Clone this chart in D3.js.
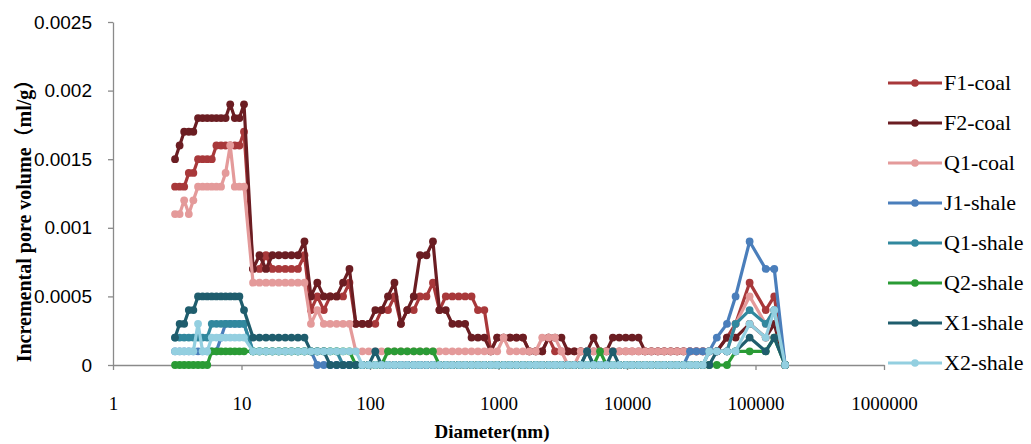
<!DOCTYPE html>
<html><head><meta charset="utf-8">
<script src="https://cdn.jsdelivr.net/npm/d3@7"></script>
<style>body{margin:0;background:#fff} svg{display:block}</style>
</head><body><svg id="c" width="1031" height="444"></svg>
<script>
// Pore diameters (nm)
const diameters = [3.04,3.30,3.58,3.89,4.22,4.59,4.98,5.41,5.87,6.38,6.93,7.52,8.17,8.87,9.63,10.46,
12.3,13.8,15.5,17.4,19.5,21.9,24.5,27.5,30.9,34.7,38.9,43.7,49.0,55.0,61.7,69.2,77.6,87.1,97.7,110,
123,138,155,174,195,219,245,275,309,347,389,437,490,550,617,692,776,871,977,1096,
1230,1380,1549,1738,1950,2188,2455,2754,3090,3467,3890,4365,4898,5495,6166,6918,7762,8710,9772,10965,
12303,13804,15488,17378,19498,21878,24547,27542,30903,34674,38905,43652,
50000,60000,70000,90000,120000,140000,170000];

// Incremental pore volume (ml/g)
const F1coal = [13e-4,13e-4,13e-4,14e-4,14e-4,15e-4,15e-4,15e-4,15e-4,16e-4,16e-4,16e-4,16e-4,16e-4,16e-4,17e-4,
7e-4,7e-4,8e-4,7e-4,7e-4,7e-4,7e-4,7e-4,8e-4,
4e-4,5e-4,4e-4,5e-4,5e-4,5e-4,6e-4,3e-4,
3e-4,3e-4,3e-4,4e-4,4e-4,5e-4,3e-4,4e-4,4e-4,5e-4,5e-4,6e-4,
4e-4,5e-4,5e-4,5e-4,5e-4,5e-4,4e-4,4e-4,1e-4,
2e-4,2e-4,2e-4,2e-4,2e-4,
1e-4,1e-4,1e-4,2e-4,1e-4,1e-4,1e-4,1e-4,1e-4,1e-4,1e-4,1e-4,1e-4,1e-4,1e-4,1e-4,1e-4,1e-4,1e-4,1e-4,1e-4,1e-4,1e-4,1e-4,1e-4,1e-4,1e-4,1e-4,1e-4,
1e-4,2e-4,3e-4,6e-4,4e-4,5e-4,0];
const F2coal = [15e-4,16e-4,17e-4,17e-4,17e-4,18e-4,18e-4,18e-4,18e-4,18e-4,18e-4,18e-4,19e-4,18e-4,18e-4,19e-4,
7e-4,8e-4,7e-4,8e-4,8e-4,8e-4,8e-4,8e-4,9e-4,
5e-4,6e-4,5e-4,5e-4,5e-4,6e-4,7e-4,3e-4,
3e-4,3e-4,4e-4,4e-4,5e-4,6e-4,3e-4,4e-4,5e-4,8e-4,8e-4,9e-4,
4e-4,4e-4,3e-4,3e-4,3e-4,2e-4,2e-4,2e-4,1e-4,
2e-4,2e-4,2e-4,2e-4,2e-4,
1e-4,1e-4,1e-4,2e-4,2e-4,2e-4,1e-4,1e-4,1e-4,1e-4,2e-4,1e-4,1e-4,2e-4,2e-4,2e-4,2e-4,2e-4,1e-4,1e-4,1e-4,1e-4,1e-4,1e-4,1e-4,1e-4,1e-4,1e-4,1e-4,
1e-4,2e-4,2e-4,3e-4,2e-4,3e-4,0];
const Q1coal = [11e-4,11e-4,12e-4,11e-4,12e-4,13e-4,13e-4,13e-4,13e-4,13e-4,13e-4,14e-4,16e-4,13e-4,13e-4,13e-4,
6e-4,6e-4,6e-4,6e-4,6e-4,6e-4,6e-4,6e-4,6e-4,
3e-4,4e-4,3e-4,3e-4,3e-4,3e-4,3e-4,1e-4,
1e-4,1e-4,1e-4,1e-4,1e-4,1e-4,1e-4,1e-4,1e-4,1e-4,1e-4,1e-4,
1e-4,1e-4,1e-4,1e-4,1e-4,1e-4,1e-4,1e-4,1e-4,
1e-4,2e-4,1e-4,1e-4,1e-4,
1e-4,1e-4,2e-4,2e-4,2e-4,1e-4,0,0,1e-4,1e-4,1e-4,1e-4,1e-4,1e-4,1e-4,1e-4,1e-4,1e-4,1e-4,1e-4,1e-4,1e-4,1e-4,1e-4,1e-4,1e-4,1e-4,1e-4,1e-4,
1e-4,1e-4,3e-4,5e-4,3e-4,4e-4,0];
const J1shale = [1e-4,1e-4,1e-4,1e-4,1e-4,1e-4,1e-4,1e-4,1e-4,1e-4,2e-4,3e-4,3e-4,3e-4,3e-4,3e-4,
1e-4,1e-4,1e-4,1e-4,1e-4,1e-4,1e-4,1e-4,1e-4,
1e-4,0,0,0,0,0,0,0,
0,0,0,0,0,0,0,0,0,0,0,0,
0,0,0,0,0,0,0,0,0,
0,0,0,0,0,
0,0,0,0,0,0,0,0,0,0,0,0,0,0,0,0,0,0,0,0,0,0,0,0,0,1e-4,1e-4,1e-4,1e-4,
2e-4,3e-4,5e-4,9e-4,7e-4,7e-4,0];
const Q1shale = [2e-4,2e-4,2e-4,2e-4,2e-4,2e-4,2e-4,2e-4,3e-4,3e-4,3e-4,3e-4,3e-4,3e-4,3e-4,3e-4,
1e-4,1e-4,1e-4,1e-4,1e-4,1e-4,1e-4,1e-4,1e-4,
1e-4,1e-4,1e-4,1e-4,1e-4,0,0,0,
0,0,0,0,0,0,0,0,0,0,0,0,
0,0,0,0,0,0,0,0,0,
0,0,0,0,0,
0,0,0,0,0,0,0,0,0,1e-4,0,0,0,0,0,0,0,0,0,0,0,0,0,0,0,0,0,0,1e-4,
1e-4,1e-4,3e-4,4e-4,3e-4,4e-4,0];
const Q2shale = [0,0,0,0,0,0,0,0,1e-4,1e-4,1e-4,1e-4,1e-4,1e-4,1e-4,1e-4,
1e-4,1e-4,1e-4,1e-4,1e-4,1e-4,1e-4,1e-4,1e-4,
1e-4,1e-4,1e-4,1e-4,1e-4,1e-4,1e-4,0,
0,0,0,0,1e-4,1e-4,1e-4,1e-4,1e-4,1e-4,1e-4,1e-4,
0,0,0,0,0,0,0,0,0,
0,0,0,0,0,
0,0,0,0,0,0,0,0,0,0,0,1e-4,0,0,0,0,0,0,0,0,0,0,0,0,0,0,0,0,0,
0,0,1e-4,1e-4,1e-4,2e-4,0];
const X1shale = [2e-4,3e-4,3e-4,4e-4,4e-4,5e-4,5e-4,5e-4,5e-4,5e-4,5e-4,5e-4,5e-4,5e-4,5e-4,4e-4,
2e-4,2e-4,2e-4,2e-4,2e-4,2e-4,2e-4,2e-4,2e-4,
1e-4,1e-4,1e-4,0,0,0,0,0,
0,0,1e-4,0,0,0,0,0,0,0,0,0,
0,0,0,0,0,0,0,0,0,
0,0,0,0,0,
0,0,0,0,0,0,0,0,0,1e-4,0,0,0,1e-4,0,0,0,0,0,0,0,0,0,0,0,0,0,0,0,
1e-4,1e-4,1e-4,2e-4,1e-4,2e-4,0];
const X2shale = [1e-4,1e-4,1e-4,1e-4,1e-4,3e-4,1e-4,1e-4,2e-4,2e-4,2e-4,2e-4,2e-4,2e-4,2e-4,2e-4,
1e-4,1e-4,1e-4,1e-4,1e-4,1e-4,1e-4,1e-4,1e-4,
1e-4,1e-4,1e-4,1e-4,1e-4,1e-4,1e-4,1e-4,
0,0,0,0,0,0,0,0,0,0,0,0,
0,0,0,0,0,0,0,0,0,
0,0,0,0,0,
0,0,0,0,0,0,0,0,0,0,0,0,0,0,0,0,0,0,0,0,0,0,0,0,0,0,0,0,1e-4,
1e-4,1e-4,1e-4,3e-4,2e-4,4e-4,0];

const seriesNames = ["F1-coal","F2-coal","Q1-coal","J1-shale","Q1-shale","Q2-shale","X1-shale","X2-shale"];
const seriesValues = [F1coal,F2coal,Q1coal,J1shale,Q1shale,Q2shale,X1shale,X2shale];
const seriesColors = ["#a8383a","#6b1d22","#e49a9a","#4a7ebb","#31889e","#2a9b35","#1f5d6d","#93cfe0"];
const xTickValues = [1,10,100,1000,10000,100000,1000000];
const yTickValues = [0,0.0005,0.001,0.0015,0.002,0.0025];
const yTickLabels = ["0","0.0005","0.001","0.0015","0.002","0.0025"];

const svg = d3.select("#c");
const x = d3.scaleLog().domain([1,1e6]).range([113,884]);
const y = d3.scaleLinear().domain([0,0.0025]).range([365,22]);
const axisColor = "#8a8a8a";

const gx = svg.append("g").attr("transform","translate(0,365)")
  .call(d3.axisBottom(x).tickValues(xTickValues).tickFormat(d3.format("d")).tickSize(5).tickSizeOuter(0).tickPadding(27));
gx.selectAll("text").attr("font-family","'Liberation Serif',serif").attr("font-size",19).attr("fill","#000");
const gy = svg.append("g").attr("transform","translate(113,0)")
  .call(d3.axisLeft(y).tickValues(yTickValues).tickFormat((d,i)=>yTickLabels[i]).tickSize(5).tickSizeOuter(0).tickPadding(16));
gy.selectAll("text").attr("font-family","'Liberation Sans',Arial,sans-serif").attr("font-size",19).attr("fill","#000");
svg.selectAll(".domain, .tick line").attr("stroke",axisColor).attr("stroke-width",1.3);

const line = d3.line().x(d=>x(d[0])).y(d=>y(d[1]));
seriesValues.forEach((vals,si)=>{
  const pts = diameters.map((d,i)=>[d,vals[i]]);
  const g = svg.append("g");
  g.append("path").datum(pts).attr("d",line).attr("fill","none")
    .attr("stroke",seriesColors[si]).attr("stroke-width",3.2).attr("stroke-linejoin","round");
  g.selectAll("circle").data(pts).join("circle")
    .attr("cx",d=>x(d[0])).attr("cy",d=>y(d[1])).attr("r",3.9).attr("fill",seriesColors[si]);
});

// legend
const lg = svg.append("g");
seriesNames.forEach((n,i)=>{
  const yy = 83 + i*40;
  lg.append("line").attr("x1",888).attr("x2",942).attr("y1",yy).attr("y2",yy)
    .attr("stroke",seriesColors[i]).attr("stroke-width",3);
  lg.append("circle").attr("cx",915).attr("cy",yy).attr("r",3.8).attr("fill",seriesColors[i]);
  lg.append("text").attr("x",944).attr("y",yy+7).text(n)
    .attr("font-family","'Liberation Serif',serif").attr("font-size",22).attr("fill","#000");
});

// axis titles
svg.append("text").attr("x",492).attr("y",438).attr("text-anchor","middle")
  .attr("font-family","'Liberation Serif',serif").attr("font-weight","bold").attr("font-size",19)
  .text("Diameter(nm)");
svg.append("text").attr("transform","translate(31,216) rotate(-90)").attr("text-anchor","middle")
  .attr("font-family","'Liberation Serif','Noto Sans CJK SC',serif").attr("font-weight","bold").attr("font-size",20)
  .text("Incremental pore volume（ml/g）");
</script></body></html>
